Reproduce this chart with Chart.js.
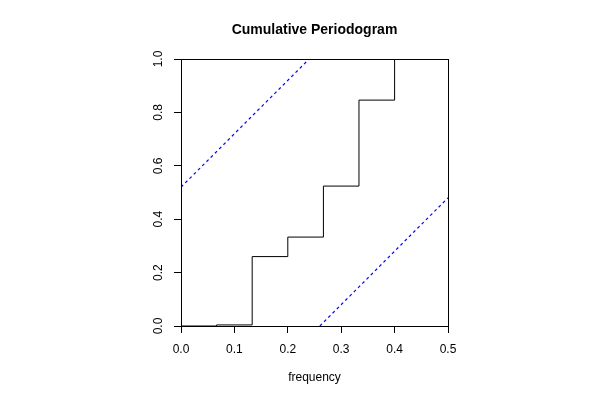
<!DOCTYPE html>
<html>
<head>
<meta charset="utf-8">
<script src="https://cdn.jsdelivr.net/npm/chart.js@4"></script>
<style>
  html, body { margin: 0; padding: 0; background: #ffffff; }
  #wrap { width: 600px; height: 400px; }
</style>
</head>
<body>
<div id="wrap"><canvas id="c" width="600" height="400"></canvas></div>
<script>
// ---- data ----
const chartTitle = "Cumulative Periodogram";
const xLabel = "frequency";
const frequencies = [0, 0.0667, 0.1333, 0.2, 0.2667, 0.3333, 0.4];
const cumulative  = [0, 0.004, 0.26, 0.333, 0.524, 0.846, 1.0];
const upperBandX = [0, 0.24];
const upperBandY = [0.52, 1.0];
const lowerBandX = [0.26, 0.5];
const lowerBandY = [0, 0.48];
const xTicks = [0, 0.1, 0.2, 0.3, 0.4, 0.5];
const yTicks = [0, 0.2, 0.4, 0.6, 0.8, 1.0];

const FONT = "'Liberation Sans', Arial, Helvetica, sans-serif";

const toPoints = (xs, ys) => xs.map((x, i) => ({ x: x, y: ys[i] }));

const boxPlugin = {
  id: 'plotBox',
  afterDraw(chart) {
    const a = chart.chartArea;
    const ctx = chart.ctx;
    ctx.save();
    ctx.strokeStyle = '#000000';
    ctx.lineWidth = 1;
    ctx.strokeRect(Math.round(a.left) + 0.5, Math.round(a.top) + 0.5,
                   Math.round(a.right) - Math.round(a.left), Math.round(a.bottom) - Math.round(a.top));
    ctx.restore();
  }
};

new Chart(document.getElementById('c'), {
  type: 'scatter',
  data: {
    datasets: [
      {
        data: toPoints(frequencies, cumulative),
        showLine: true,
        stepped: true,
        borderColor: '#000000',
        borderWidth: 1,
        pointRadius: 0,
        fill: false
      },
      {
        data: toPoints(upperBandX, upperBandY),
        showLine: true,
        borderColor: '#0000ff',
        borderWidth: 1.2,
        borderDash: [3, 3],
        pointRadius: 0,
        fill: false
      },
      {
        data: toPoints(lowerBandX, lowerBandY),
        showLine: true,
        borderColor: '#0000ff',
        borderWidth: 1.2,
        borderDash: [3, 3],
        pointRadius: 0,
        fill: false
      }
    ]
  },
  options: {
    responsive: false,
    animation: false,
    devicePixelRatio: 1,
    layout: { padding: { left: 0, right: 152, top: 0, bottom: 0 } },
    plugins: {
      legend: { display: false },
      tooltip: { enabled: false },
      title: { display: false }
    },
    scales: {
      x: {
        type: 'linear',
        position: 'bottom',
        min: 0, max: 0.5,
        afterBuildTicks: s => { s.ticks = xTicks.map(v => ({ value: v })); },
        afterFit: s => { s.height = 74; },
        grid: { display: true, drawOnChartArea: false, drawTicks: true, tickLength: 7, color: '#000000', lineWidth: 1 },
        border: { display: true, color: '#000000', width: 1 },
        ticks: {
          color: '#000000',
          font: { family: FONT, size: 12 },
          padding: 9,
          maxRotation: 0, minRotation: 0,
          callback: v => Number(v).toFixed(1)
        },
        title: {
          display: true,
          text: xLabel,
          color: '#000000',
          font: { family: FONT, size: 12 },
          padding: { top: 0, bottom: 15 }
        }
      },
      xTop: {
        type: 'linear',
        position: 'top',
        min: 0, max: 0.5,
        afterFit: s => { s.height = 59; },
        grid: { display: false, drawTicks: false },
        border: { display: false },
        ticks: { display: false },
        title: {
          display: true,
          text: chartTitle,
          color: '#000000',
          font: { family: FONT, size: 14, weight: 'bold' },
          padding: { top: 22, bottom: 0 }
        }
      },
      y: {
        type: 'linear',
        min: 0, max: 1,
        afterBuildTicks: s => { s.ticks = yTicks.map(v => ({ value: v })); },
        afterFit: s => { s.width = 181; },
        grid: { display: true, drawOnChartArea: false, drawTicks: true, tickLength: 7, color: '#000000', lineWidth: 1 },
        border: { display: true, color: '#000000', width: 1 },
        ticks: {
          color: '#000000',
          font: { family: FONT, size: 12 },
          padding: 7,
          minRotation: 90, maxRotation: 90,
          crossAlign: 'center',
          callback: v => Number(v).toFixed(1)
        }
      }
    }
  },
  plugins: [boxPlugin]
});
</script>
</body>
</html>
